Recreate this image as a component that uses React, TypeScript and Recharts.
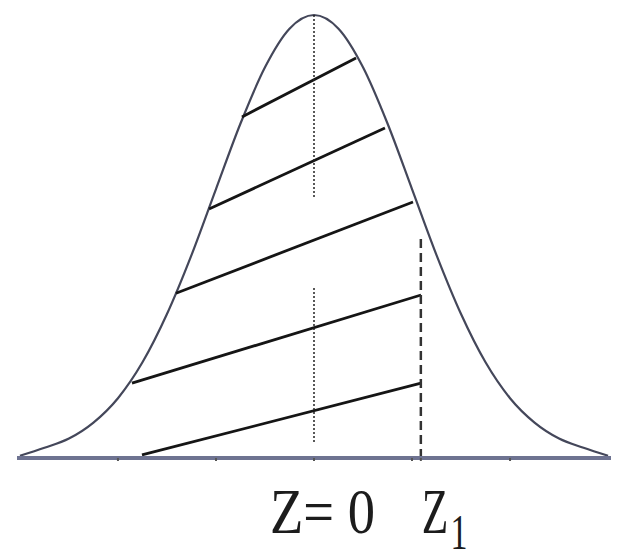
import { ComposedChart, Line, XAxis, YAxis, ReferenceLine } from "recharts";

// bell curve heights (peak = 1) at z steps of 0.25
const curveZ = [-3, -2.75, -2.5, -2.25, -2, -1.75, -1.5, -1.25, -1, -0.75, -0.5, -0.25, 0, 0.25, 0.5, 0.75, 1, 1.25, 1.5, 1.75, 2, 2.25, 2.5, 2.75, 3];
const curveH = [0.005, 0.023, 0.044, 0.08, 0.135, 0.216, 0.325, 0.458, 0.607, 0.755, 0.882, 0.969, 1, 0.969, 0.882, 0.755, 0.607, 0.458, 0.325, 0.216, 0.135, 0.08, 0.044, 0.023, 0.005];

// shading strokes: left end and right end of each stroke
const hatchFromZ = [-0.735, -1.071, -1.408, -1.857, -1.755];
const hatchFromH = [0.77, 0.562, 0.372, 0.169, 0.007];
const hatchToZ = [0.429, 0.724, 1.01, 1.092, 1.092];
const hatchToH = [0.903, 0.745, 0.578, 0.368, 0.169];

const Z1 = 1.09;
const axisTicks = [-2, -1, 0, 1, Z1, 2];

// mean line is broken into two dotted pieces
const meanSegments = [
  [1, 0.589],
  [0.384, 0.034],
];
const z1Top = 0.5;

const curveData = curveZ.map((z, i) => ({ z, h: curveH[i] }));
const hatchData = hatchFromZ.map((z, i) => [
  { z, h: hatchFromH[i] },
  { z: hatchToZ[i], h: hatchToH[i] },
]);

const font = "'Liberation Serif', 'DejaVu Serif', serif";

function AxisTick({ x, y, payload }: any) {
  if (payload.value === 0) {
    return (
      <text x={x - 44} y={y + 72} fontFamily={font} fontSize={64} fill="#1c1c1c" textLength={105} lengthAdjust="spacingAndGlyphs">
        Z= 0
      </text>
    );
  }
  if (payload.value === Z1) {
    return (
      <g transform={`translate(${x + 1},${y + 72}) scale(0.68,1)`}>
        <text x={0} y={0} fontFamily={font} fontSize={64} fill="#1c1c1c">
          Z
          <tspan dx={3} dy={16} fontSize={50}>
            1
          </tspan>
        </text>
      </g>
    );
  }
  return <g />;
}

export default function App() {
  return (
    <div style={{ position: "absolute", left: 0, top: 0, background: "#fff" }}>
      <ComposedChart width={620} height={559} data={curveData} margin={{ top: 15, right: 9, bottom: 41, left: 17 }}>
        <XAxis
          dataKey="z"
          type="number"
          domain={[-3.03, 3.03]}
          ticks={axisTicks}
          tick={<AxisTick />}
          tickSize={3}
          tickMargin={0}
          height={60}
          axisLine={{ stroke: "#6e7391", strokeWidth: 4 }}
          tickLine={{ stroke: "#555", strokeWidth: 2 }}
          interval={0}
        />
        <YAxis hide type="number" domain={[0, 1]} />
        <Line dataKey="h" type="monotone" stroke="#44475a" strokeWidth={2.2} dot={false} isAnimationActive={false} />
        {hatchData.map((d, i) => (
          <Line
            key={i}
            data={d}
            dataKey="h"
            type="linear"
            stroke="#151515"
            strokeWidth={2.8}
            dot={false}
            isAnimationActive={false}
          />
        ))}
        {meanSegments.map((s, i) => (
          <ReferenceLine
            key={i}
            segment={[
              { x: 0, y: s[0] },
              { x: 0, y: s[1] },
            ]}
            stroke="#222"
            strokeWidth={1.5}
            strokeDasharray="2 2"
          />
        ))}
        <ReferenceLine
          segment={[
            { x: Z1, y: 0 },
            { x: Z1, y: z1Top },
          ]}
          stroke="#333"
          strokeWidth={2.5}
          strokeDasharray="9 5"
        />
      </ComposedChart>
    </div>
  );
}
